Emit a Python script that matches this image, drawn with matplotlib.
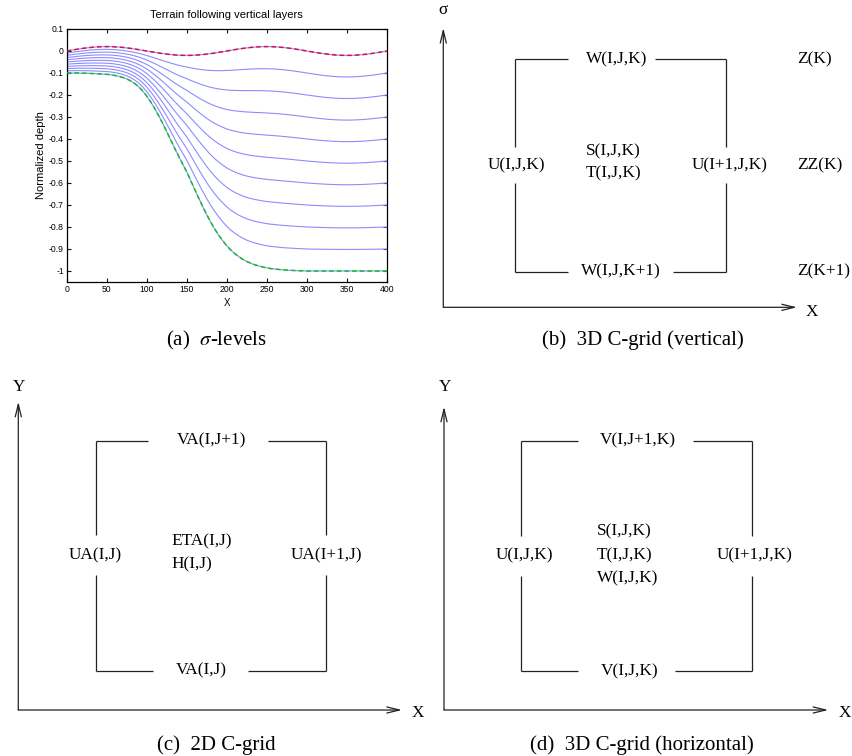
import matplotlib
matplotlib.use("Agg")
import matplotlib.pyplot as plt
import numpy as np

plt.rcParams['axes.unicode_minus'] = False
plt.rcParams['mathtext.fontset'] = 'stix'

# ---------------- data for panel (a) ----------------
x_pos = list(range(0, 405, 5))
eta = [0, .0031, .0062, .0091, .0118, .0141, .0162, .0178, .0190, .0198,
       .0200, .0198, .0190, .0178, .0162, .0141, .0118, .0091, .0062, .0031,
       0, -.0031, -.0062, -.0091, -.0118, -.0141, -.0162, -.0178, -.0190, -.0198,
       -.0200, -.0198, -.0190, -.0178, -.0162, -.0141, -.0118, -.0091, -.0062, -.0031,
       0, .0031, .0062, .0091, .0118, .0141, .0162, .0178, .0190, .0198,
       .0200, .0198, .0190, .0178, .0162, .0141, .0118, .0091, .0062, .0031,
       0, -.0031, -.0062, -.0091, -.0118, -.0141, -.0162, -.0178, -.0190, -.0198,
       -.0200, -.0198, -.0190, -.0178, -.0162, -.0141, -.0118, -.0091, -.0062, -.0031,
       0]
depth = [.100, .100, .100, .100, .101, .101, .102, .103, .104, .105,
         .106, .108, .111, .115, .120, .127, .136, .148, .163, .182,
         .205, .232, .262, .295, .330, .367, .405, .443, .480, .515,
         .550, .590, .630, .670, .708, .745, .779, .810, .838, .863,
         .886, .905, .921, .935, .947, .957, .965, .972, .977, .982,
         .986, .989, .991, .993, .995, .996, .997, .998, .999, .999,
         1.0, 1.0, 1.0, 1.0, 1.0, 1.0, 1.0, 1.0, 1.0, 1.0,
         1.0, 1.0, 1.0, 1.0, 1.0, 1.0, 1.0, 1.0, 1.0, 1.0,
         1.0]
sigma_levels = [0, -0.1, -0.2, -0.3, -0.4, -0.5, -0.6, -0.7, -0.8, -0.9, -1.0]
xticks = [0, 50, 100, 150, 200, 250, 300, 350, 400]
yticks = [0.1, 0, -0.1, -0.2, -0.3, -0.4, -0.5, -0.6, -0.7, -0.8, -0.9, -1]
ytick_labels = ['0.1', '0', '-0.1', '-0.2', '-0.3', '-0.4', '-0.5', '-0.6',
                '-0.7', '-0.8', '-0.9', '-1']

# ---------------- figure ----------------
W, H = 853, 756
fig = plt.figure(figsize=(W / 100, H / 100), dpi=100)

ax = fig.add_axes([66.7 / W, 1 - 282 / H, 320.3 / W, 253 / H])
xa = np.array(x_pos, dtype=float)
ea = np.array(eta)
da = np.array(depth)
for s in sigma_levels:
    z = ea + s * (da + ea)
    ax.plot(xa, z, color='#8c8cff', lw=0.8, zorder=2)
ax.plot(xa, ea, color='#e0103a', lw=1.1, ls=(0, (3, 2)), zorder=3)
ax.plot(xa, -da, color='#10c020', lw=1.1, ls=(0, (3, 2)), zorder=3)
ax.set_xlim(0, 400)
ax.set_ylim(-1.05, 0.1)
ax.set_xticks(xticks)
ax.set_xticklabels([str(t) for t in xticks])
ax.set_yticks(yticks)
ax.set_yticklabels(ytick_labels)
ax.tick_params(direction='in', length=3, width=0.8, labelsize=6.2,
               top=True, right=True, pad=2, colors='#101030', labelcolor='black')
for lab in ax.get_xticklabels() + ax.get_yticklabels():
    lab.set_family('Liberation Sans')
for sp in ax.spines.values():
    sp.set_linewidth(0.9)
ax.set_title('Terrain following vertical layers', fontsize=8,
             family='Liberation Sans', pad=8)
ax.set_ylabel('Normalized depth', fontsize=8, family='Liberation Sans', labelpad=2)
ax.set_xlabel('X', fontsize=7, family='Liberation Sans', labelpad=3)

# ---------------- diagram overlay (pixel coordinates) ----------------
ov = fig.add_axes([0, 0, 1, 1])
ov.set_xlim(0, W)
ov.set_ylim(H, 0)
ov.axis('off')
ov.patch.set_visible(False)

LC = '#222222'
FS = 12.4
CAP = 15
SERIF = 'Liberation Serif'


def seg(x0, y0, x1, y1):
    ov.plot([x0, x1], [y0, y1], color=LC, lw=0.9, solid_capstyle='butt')


def txt(x, y, s, ha='center', size=FS):
    ov.text(x, y, s, ha=ha, va='center', fontsize=size, family=SERIF, color='black')


def arrow(x0, y0, x1, y1):
    ov.annotate('', xy=(x1, y1), xytext=(x0, y0),
                arrowprops=dict(arrowstyle='->,head_length=0.9,head_width=0.22',
                                color=LC, lw=0.9, shrinkA=0, shrinkB=0))


# ---- panel (b) ----
arrow(443.3, 307.3, 443.3, 28)
arrow(443.3, 307.3, 797, 307.3)
txt(443.3, 10, 'σ')
txt(811.7, 311.7, 'X')
L, R, T, B = 514.7, 726, 59.3, 271.7
seg(L, T, 567.7, T); seg(655, T, R, T)
seg(L, B, 567.7, B); seg(673.3, B, R, B)
seg(L, T, L, 146.7); seg(L, 182.7, L, B)
seg(R, T, R, 146.7); seg(R, 182.7, R, B)
txt(616.7, T, 'W(I,J,K)')
txt(620.5, B, 'W(I,J,K+1)')
txt(516.7, 165, 'U(I,J,K)')
txt(729.3, 165, 'U(I+1,J,K)')
txt(586, 151.7, 'S(I,J,K)', ha='left')
txt(586, 173.3, 'T(I,J,K)', ha='left')
txt(797.3, T, 'Z(K)', ha='left')
txt(797.3, 165, 'ZZ(K)', ha='left')
txt(797.3, B, 'Z(K+1)', ha='left')

# ---- panel (c) ----
arrow(18.3, 710, 18.3, 401.7)
arrow(18.3, 710, 402, 710)
txt(19.3, 386.7, 'Y')
txt(418.3, 713.3, 'X')
L, R, T, B = 95.7, 325.7, 440.7, 671
seg(L, T, 148.3, T); seg(268.3, T, R, T)
seg(L, B, 152.7, B); seg(248.3, B, R, B)
seg(L, T, L, 535); seg(L, 575, L, B)
seg(R, T, R, 535); seg(R, 575, R, B)
txt(211.7, T, 'VA(I,J+1)')
txt(201.7, B - 1, 'VA(I,J)')
txt(95.7, 555, 'UA(I,J)')
txt(326.7, 555, 'UA(I+1,J)')
txt(171, 541.7, 'ETA(I,J)', ha='left')
txt(171, 564.3, 'H(I,J)', ha='left')

# ---- panel (d) ----
arrow(444, 710, 444, 406.7)
arrow(444, 710, 828.3, 710)
txt(445, 386.7, 'Y')
txt(845, 713.3, 'X')
L, R, T, B = 521, 751.7, 440.7, 671
seg(L, T, 578.3, T); seg(693.3, T, R, T)
seg(L, B, 578.3, B); seg(675, B, R, B)
seg(L, T, L, 535.7); seg(L, 575.7, L, B)
seg(R, T, R, 535.7); seg(R, 575.7, R, B)
txt(638.3, T, 'V(I,J+1,K)')
txt(629.3, B, 'V(I,J,K)')
txt(524, 555, 'U(I,J,K)')
txt(755, 555, 'U(I+1,J,K)')
txt(596.7, 531.7, 'S(I,J,K)', ha='left')
txt(596.7, 555, 'T(I,J,K)', ha='left')
txt(596.7, 578.3, 'W(I,J,K)', ha='left')

# ---- captions ----
txt(216.5, 340, r'(a)  $\sigma$-levels', size=CAP)
txt(643, 340, '(b)  3D C-grid (vertical)', size=CAP)
txt(216.7, 745, '(c)  2D C-grid', size=CAP)
txt(641.7, 745, '(d)  3D C-grid (horizontal)', size=CAP)

fig.savefig('out.png', dpi=100)
